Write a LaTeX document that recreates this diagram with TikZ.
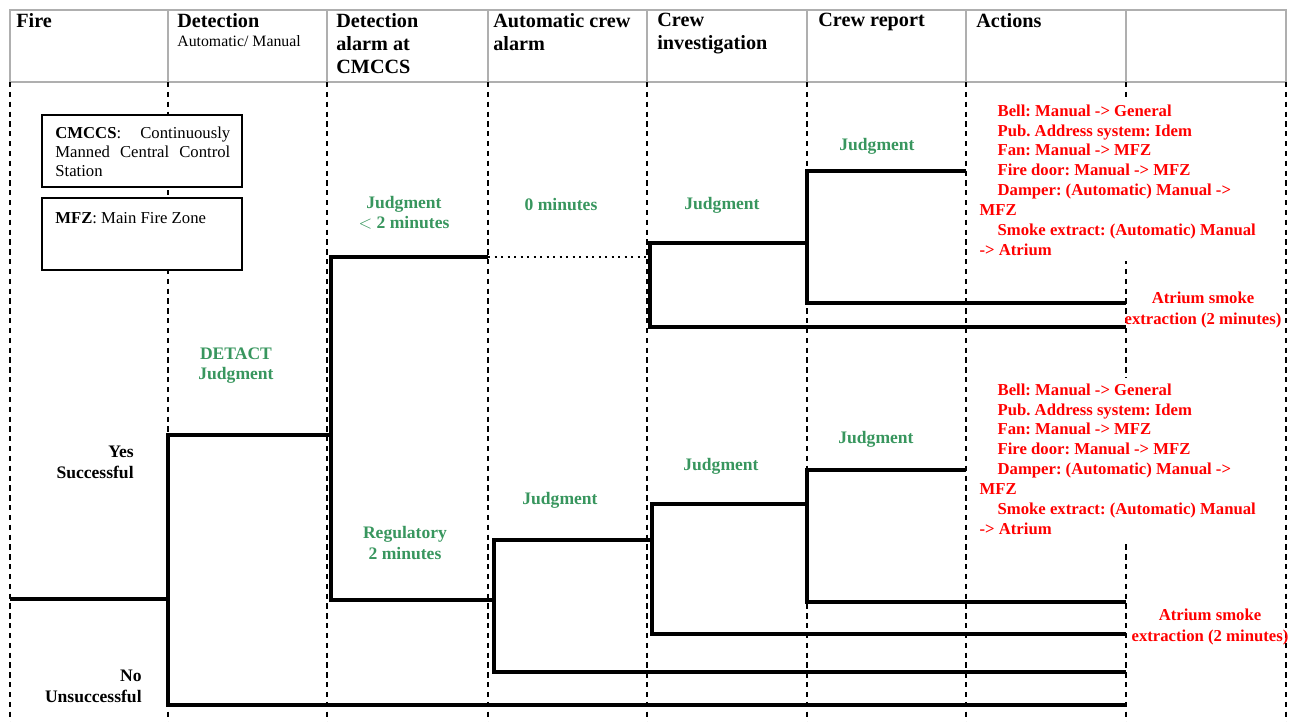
\documentclass[tikz,border=0pt]{standalone}
\usepackage{fontspec}
\setmainfont{Liberation Serif}
\usepackage{xcolor}
\usetikzlibrary{positioning}
\definecolor{judggreen}{RGB}{56,150,94}
\definecolor{headgray}{RGB}{175,175,175}
\frenchspacing

\begin{document}
\begin{tikzpicture}[x=0.02cm, y=-0.02cm,
  branch/.style={line width=2pt},
  dotline/.style={line width=1.3pt, dash pattern=on 1.2pt off 2.5pt},
  colline/.style={line width=0.6pt, dash pattern=on 3pt off 2.6pt},
  headtxt/.style={font=\fontsize{11.5}{13}\selectfont\bfseries, anchor=north west, inner sep=0pt, align=left},
  subtxt/.style={font=\fontsize{9}{10}\selectfont, anchor=base west, inner sep=0pt},
  judg/.style={font=\fontsize{10}{11.5}\selectfont\bfseries, text=judggreen, align=center, inner sep=0pt},
  outc/.style={font=\fontsize{10}{11.8}\selectfont\bfseries, align=right, anchor=east, inner sep=0pt},
  act/.style={font=\fontsize{9.5}{11.3}\selectfont\bfseries, text=red, align=left, fill=white, inner sep=3pt, anchor=north west},
  atr/.style={font=\fontsize{9.5}{11.6}\selectfont\bfseries, text=red, align=center, inner sep=0pt},
  legbox/.style={draw, line width=0.9pt, fill=white, minimum width=4cm, minimum height=1.44cm, inner sep=0pt},
  legtxt/.style={font=\fontsize{9.5}{10.8}\selectfont, anchor=north west, inner sep=0pt}
]
  \useasboundingbox (0,0) rectangle (1303,722);

  % header and column lines
  \draw[headgray, line width=0.8pt] (10,10) rectangle (1286,82);
  \foreach \x in {168,327,488,647,807,966,1126}
    \draw[headgray, line width=0.8pt] (\x,10) -- (\x,82);
  \foreach \x in {10,168,327,488,647,807,966,1126,1286}
    \draw[colline] (\x,82) -- (\x,722);

  \node[headtxt] (hfire) at (16,13) {Fire};
  \node[headtxt] (hdet) at (177,13) {Detection};
  \node[subtxt] (hdetsub) at (177,47) {Automatic/ Manual};
  \node[headtxt] (halarm) at (336,13) {Detection\\alarm at\\CMCCS};
  \node[headtxt] (hcrew) at (493,13) {Automatic crew\\alarm};
  \node[headtxt] (hinv) at (657,13) {Crew\\investigation};
  \node[headtxt] (hrep) at (818,13) {Crew report};
  \node[headtxt] (hact) at (976,13) {Actions};

  % legend
  \node[legbox] (cmbox) at (142,151) {};
  \node[legtxt, text width=3.5cm, align=justify] (cmtxt) at (55,127)
    {\textbf{CMCCS}:\ \ Continuously Manned Central Control Station};
  \node[legbox] (mfzbox) at (142,234) {};
  \node[legtxt] (mfztxt) at (55,212) {\textbf{MFZ}: Main Fire Zone};

  % event tree
  \coordinate (fire) at (10,599);
  \coordinate (det) at (168,599);
  \draw[branch] (fire) -- (det);

  \coordinate (detY) at (168,435);
  \coordinate (detN) at (168,705);
  \coordinate (alm) at (331,435);
  \coordinate (endN) at (1126,705);
  \draw[branch] (alm) -- (detY) -- (detN) -- (endN);

  \coordinate (almY) at (331,257);
  \coordinate (almN) at (331,600);
  \coordinate (auto1) at (488,257);
  \coordinate (auto2) at (494,600);
  \coordinate (inv1) at (650,257);
  \draw[branch] (auto1) -- (almY) -- (almN) -- (auto2);
  \draw[dotline] (auto1) -- (inv1);

  % upper branch
  \coordinate (inv1Y) at (650,243);
  \coordinate (inv1N) at (650,327);
  \coordinate (rep1) at (807,243);
  \coordinate (end1I) at (1126,327);
  \draw[branch] (rep1) -- (inv1Y) -- (inv1N) -- (end1I);
  \coordinate (rep1Y) at (807,171);
  \coordinate (rep1N) at (807,303);
  \coordinate (act1) at (966,171);
  \coordinate (end1R) at (1126,303);
  \draw[branch] (act1) -- (rep1Y) -- (rep1N) -- (end1R);

  % lower branch
  \coordinate (auto2Y) at (494,540);
  \coordinate (auto2N) at (494,672);
  \coordinate (inv2) at (652,540);
  \coordinate (end2A) at (1126,672);
  \draw[branch] (inv2) -- (auto2Y) -- (auto2N) -- (end2A);
  \coordinate (inv2Y) at (652,504);
  \coordinate (inv2N) at (652,634);
  \coordinate (rep2) at (807,504);
  \coordinate (end2I) at (1126,634);
  \draw[branch] (rep2) -- (inv2Y) -- (inv2N) -- (end2I);
  \coordinate (rep2Y) at (807,470);
  \coordinate (rep2N) at (807,602);
  \coordinate (act2) at (966,470);
  \coordinate (end2R) at (1126,602);
  \draw[branch] (act2) -- (rep2Y) -- (rep2N) -- (end2R);

  % judgments
  \node[judg] (jdetact) at (236,366) {DETACT\\Judgment};
  \node[judg] (jalm1) at (404,213) {Judgment\\$<$ 2 minutes};
  \node[judg] (jauto1) at (561,205) {0 minutes};
  \node[judg] (jinv1) at (722,205) {Judgment};
  \node[judg] (jrep1) at (877,146) {Judgment};
  \node[judg] (jalm2) at (405,543) {Regulatory\\2 minutes};
  \node[judg] (jauto2) at (560,500) {Judgment};
  \node[judg] (jinv2) at (721,466) {Judgment};
  \node[judg] (jrep2) at (876,439) {Judgment};

  \node[outc] (yes) at (134,462) {Yes\\Successful};
  \node[outc] (no) at (142,686) {No\\Unsuccessful};

  % actions
  \node[act] (act1txt) at (974,99) {\hspace*{0.36cm}Bell: Manual -> General\\
    \hspace*{0.36cm}Pub. Address system: Idem\\
    \hspace*{0.36cm}Fan: Manual -> MFZ\\
    \hspace*{0.36cm}Fire door: Manual -> MFZ\\
    \hspace*{0.36cm}Damper: (Automatic) Manual ->\\
    MFZ\\
    \hspace*{0.36cm}Smoke extract: (Automatic) Manual\\
    -> Atrium};
  \node[act] (act2txt) at (974,378) {\hspace*{0.36cm}Bell: Manual -> General\\
    \hspace*{0.36cm}Pub. Address system: Idem\\
    \hspace*{0.36cm}Fan: Manual -> MFZ\\
    \hspace*{0.36cm}Fire door: Manual -> MFZ\\
    \hspace*{0.36cm}Damper: (Automatic) Manual ->\\
    MFZ\\
    \hspace*{0.36cm}Smoke extract: (Automatic) Manual\\
    -> Atrium};
  \node[atr] (atr1) at (1203,310) {Atrium smoke\\extraction (2 minutes)};
  \node[atr] (atr2) at (1210,627) {Atrium smoke\\extraction (2 minutes)};
\end{tikzpicture}
\end{document}
